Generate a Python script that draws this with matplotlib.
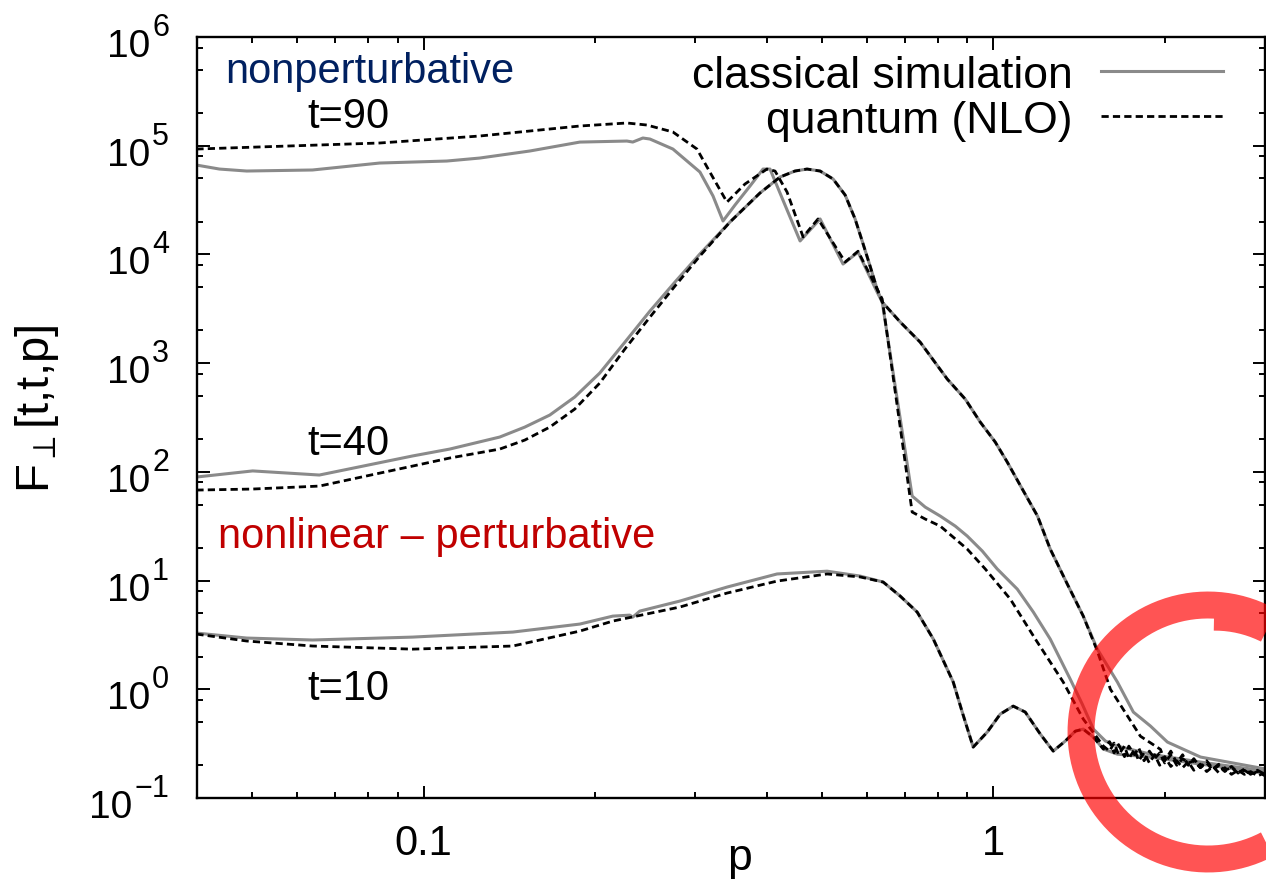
import numpy as np
import matplotlib
matplotlib.use("Agg")
import matplotlib.pyplot as plt
from matplotlib.lines import Line2D
from matplotlib.ticker import LogLocator, NullFormatter, FixedLocator, FixedFormatter

plt.rcParams['font.family'] = ['Liberation Sans', 'DejaVu Sans']
plt.rcParams['mathtext.fontset'] = 'custom'
plt.rcParams['mathtext.rm'] = 'Liberation Sans'
plt.rcParams['mathtext.it'] = 'Liberation Sans:italic'
plt.rcParams['mathtext.bf'] = 'Liberation Sans:bold'

# ---------------- data ----------------
# t = 90
p90_classical = [0.0399, 0.0438, 0.0489, 0.0638, 0.0837, 0.1098, 0.1254, 0.1536, 0.188, 0.2274,
                 0.2329, 0.2426, 0.2496, 0.2739, 0.3055, 0.3221, 0.3354, 0.3521, 0.3741, 0.3943,
                 0.4056, 0.4309, 0.458, 0.4966, 0.5449, 0.579, 0.6253, 0.6383, 0.7205, 0.7596,
                 0.8072, 0.8577, 0.900, 0.9566, 1.016, 1.102, 1.176, 1.259, 1.365, 1.433,
                 1.499, 1.574, 1.652, 1.888, 2.312, 3.006]
F90_classical = [6.64e4, 6.10e4, 5.85e4, 5.98e4, 6.93e4, 7.23e4, 7.70e4, 8.94e4, 1.08e5, 1.104e5,
                 1.081e5, 1.177e5, 1.152e5, 9.32e4, 5.73e4, 3.45e4, 2.03e4, 2.85e4, 4.26e4, 6.10e4,
                 6.10e4, 2.85e4, 1.33e4, 2.12e4, 8.16e3, 1.05e4, 4.51e3, 3.65e3, 59.9, 47.4,
                 39.2, 31.7, 25.7, 18.7, 12.8, 8.35, 5.13, 2.90, 1.241, 0.731,
                 0.430, 0.334, 0.300, 0.253, 0.214, 0.177]
p90_quantum = [0.0399, 0.0837, 0.1254, 0.188, 0.2274, 0.2465, 0.2739, 0.3019, 0.318, 0.3408,
               0.3665, 0.4006, 0.4139, 0.4345, 0.4636, 0.4925, 0.5495, 0.579, 0.6383, 0.7205,
               0.7596, 0.8072, 0.900, 0.9681, 1.0713, 1.1854, 1.327, 1.439, 1.561,
               1.60, 1.63, 1.66, 1.70, 1.73, 1.77, 1.80, 1.84, 1.88, 1.92, 1.96, 2.00, 2.05, 2.10,
               2.15, 2.20, 2.25, 2.31, 2.37, 2.43, 2.49, 2.55, 2.62, 2.69, 2.76, 2.83, 2.91, 3.00]
F90_quantum = [9.32e4, 1.059e5, 1.228e5, 1.518e5, 1.618e5, 1.55e5, 1.337e5, 9.32e4, 5.73e4, 3.03e4,
               4.44e4, 6.10e4, 5.85e4, 3.75e4, 1.45e4, 2.12e4, 8.51e3, 1.07e4, 3.89e3, 42.7,
               36.8, 31.7, 19.5, 12.8, 6.76, 2.90, 1.165, 0.532, 0.300,
               0.27, 0.32, 0.25, 0.30, 0.23, 0.28, 0.22, 0.26, 0.21, 0.25, 0.20, 0.24, 0.195, 0.22,
               0.19, 0.215, 0.18, 0.205, 0.175, 0.195, 0.17, 0.19, 0.165, 0.18, 0.165, 0.175, 0.16, 0.17]

# t = 40
p40_classical = [0.0399, 0.0501, 0.0656, 0.0956, 0.1111, 0.136, 0.1505, 0.1665, 0.1842, 0.2038,
                 0.2256, 0.2496, 0.2762, 0.3055, 0.3451, 0.3894, 0.4223, 0.4487, 0.4711, 0.4966,
                 0.5234, 0.5495, 0.5721, 0.5909, 0.6078, 0.6253, 0.6383, 0.6865, 0.7442, 0.8303,
                 0.8929, 0.9488, 1.0081, 1.0583, 1.1246, 1.196, 1.259, 1.349, 1.439, 1.523,
                 1.652, 1.762, 1.888, 2.022, 2.312, 3.006]
F40_classical = [89.6, 102, 93.5, 140, 162, 209, 258, 333, 488, 811,
                 1.56e3, 3.01e3, 5.57e3, 1.01e4, 1.99e4, 3.67e4, 5.15e4, 5.85e4, 6.10e4, 5.85e4,
                 4.94e4, 3.52e4, 2.12e4, 1.25e4, 7.82e3, 4.80e3, 3.65e3, 2.39e3, 1.56e3, 714,
                 467, 287, 188, 123, 69.5, 39.2, 19.5, 9.29, 4.71, 2.34,
                 1.165, 0.617, 0.459, 0.327, 0.238, 0.185]
p40_quantum = [0.0399, 0.0501, 0.0656, 0.0956, 0.1111, 0.136, 0.1505, 0.1665, 0.1842, 0.2038,
               0.2256, 0.2496, 0.2762, 0.3055, 0.3451, 0.3894, 0.4223, 0.4487, 0.4711, 0.4966,
               0.5234, 0.5495, 0.5721, 0.5909, 0.6078, 0.6253, 0.6383, 0.6865, 0.7442, 0.8303,
               0.8929, 0.9488, 1.0081, 1.0583, 1.1246, 1.196, 1.259, 1.349, 1.439, 1.523,
               1.606, 1.813, 1.966,
               2.00, 2.05, 2.10, 2.15, 2.20, 2.25, 2.31, 2.37, 2.43, 2.49, 2.55, 2.62, 2.69, 2.76,
               2.83, 2.91, 3.00]
F40_quantum = [68.0, 69.5, 74.0, 113, 134, 162, 196, 258, 378, 656,
               1.35e3, 2.65e3, 5.12e3, 9.67e3, 1.99e4, 3.67e4, 5.15e4, 5.85e4, 6.10e4, 5.85e4,
               4.94e4, 3.52e4, 2.12e4, 1.25e4, 7.82e3, 4.80e3, 3.65e3, 2.39e3, 1.56e3, 714,
               467, 287, 188, 123, 69.5, 39.2, 19.5, 9.29, 4.71, 2.25,
               1.0, 0.37, 0.28,
               0.22, 0.27, 0.21, 0.25, 0.20, 0.23, 0.19, 0.22, 0.185, 0.205, 0.175, 0.195, 0.17, 0.185,
               0.165, 0.18, 0.165]

# t = 10
p10_classical = [0.0399, 0.0489, 0.0638, 0.0956, 0.1434, 0.188, 0.2148, 0.2301, 0.2329, 0.2396,
                 0.2818, 0.3408, 0.4173, 0.5108, 0.5838, 0.6409, 0.6865, 0.7353, 0.7848, 0.8507,
                 0.8822, 0.9222, 0.9761, 1.0287, 1.0842, 1.1382, 1.2096, 1.2744, 1.338, 1.3936,
                 1.439, 1.499, 1.561, 1.652, 1.888, 2.312, 3.006]
F10_classical = [3.29, 2.96, 2.84, 3.02, 3.36, 3.98, 4.71, 4.81, 4.61, 5.24,
                 6.48, 8.71, 11.5, 12.2, 11.0, 9.69, 7.20, 5.13, 2.90, 1.165,
                 0.617, 0.294, 0.404, 0.591, 0.700, 0.617, 0.387, 0.270, 0.334, 0.412,
                 0.430, 0.363, 0.282, 0.253, 0.238, 0.205, 0.170]
p10_quantum = [0.0399, 0.0489, 0.0638, 0.0956, 0.1434, 0.188, 0.2148, 0.2818, 0.3408, 0.4173,
               0.5108, 0.5838, 0.6409, 0.6865, 0.7353, 0.7848, 0.8507, 0.8822, 0.9222, 0.9761,
               1.0287, 1.0842, 1.1382, 1.2096, 1.2744, 1.338, 1.3936, 1.439, 1.499, 1.561,
               1.60, 1.63, 1.66, 1.70, 1.73, 1.77, 1.80, 1.84, 1.88, 1.92, 1.96, 2.00, 2.05, 2.10,
               2.15, 2.20, 2.25, 2.31, 2.37, 2.43, 2.49, 2.55, 2.62, 2.69, 2.76, 2.83, 2.91, 3.00]
F10_quantum = [3.22, 2.78, 2.50, 2.34, 2.50, 3.43, 4.24, 5.71, 7.67, 9.89,
               11.5, 10.8, 9.69, 7.20, 5.13, 2.90, 1.165, 0.617, 0.294, 0.404,
               0.591, 0.700, 0.617, 0.387, 0.270, 0.334, 0.412, 0.430, 0.363, 0.282,
               0.33, 0.26, 0.31, 0.24, 0.30, 0.25, 0.29, 0.22, 0.27, 0.23, 0.26, 0.21, 0.25, 0.20,
               0.23, 0.21, 0.22, 0.19, 0.21, 0.18, 0.20, 0.18, 0.19, 0.17, 0.18, 0.165, 0.175, 0.16]

x_ticks = [0.1, 1]
x_ticklabels = ['0.1', '1']
y_exponents = [-1, 0, 1, 2, 3, 4, 5, 6]

legend_labels = ['classical simulation', 'quantum (NLO)']
annotations = [('nonperturbative', '#002060'), ('t=90', 'black'), ('t=40', 'black'),
               ('t=10', 'black'), ('nonlinear \u2013 perturbative', '#C00000')]

# ---------------- figure ----------------
W, H = 1266, 887
fig = plt.figure(figsize=(W / 100, H / 100), dpi=100)
L, R, T, B = 197, 1265, 38, 799
ax = fig.add_axes([L / W, 1 - B / H, (R - L) / W, (B - T) / H])

gray = '#8a8a8a'
dash = (0, (2.6, 1.5))
lw_c = 2.2
lw_q = 2.0

for p, F in [(p90_classical, F90_classical), (p40_classical, F40_classical), (p10_classical, F10_classical)]:
    ax.plot(p, F, color=gray, lw=lw_c, solid_joinstyle='round', zorder=2)
for p, F in [(p90_quantum, F90_quantum), (p40_quantum, F40_quantum), (p10_quantum, F10_quantum)]:
    ax.plot(p, F, color='black', lw=lw_q, linestyle=dash, zorder=3)

ax.set_xscale('log')
ax.set_yscale('log')
ax.set_xlim(0.04, 3.0)
ax.set_ylim(0.1, 1e6)

ax.xaxis.set_major_locator(FixedLocator(x_ticks))
ax.xaxis.set_major_formatter(FixedFormatter(x_ticklabels))
ax.xaxis.set_minor_locator(LogLocator(base=10, subs=np.arange(2, 10), numticks=20))
ax.xaxis.set_minor_formatter(NullFormatter())
ax.yaxis.set_major_locator(FixedLocator([10.0 ** e for e in y_exponents]))
ax.yaxis.set_minor_locator(LogLocator(base=10, subs=[2, 5, 8], numticks=20))
ax.yaxis.set_minor_formatter(NullFormatter())

ax.tick_params(which='both', direction='in', top=True, right=True, width=1.4, color='black')
ax.tick_params(which='major', length=9)
ax.tick_params(which='minor', length=4.5)
ax.tick_params(axis='x', which='major', labelsize=30, pad=18)
ax.tick_params(axis='y', which='both', labelleft=False)
for s in ax.spines.values():
    s.set_linewidth(1.7)

ax.set_xlabel('p', fontsize=32, va='baseline')
ax.xaxis.set_label_coords(0.508, -0.093)
ax.text(-0.1498, 0.512, r'F$_{\perp}$[t,t,p]', transform=ax.transAxes, rotation=90,
        ha='center', va='center', fontsize=34)

# y tick labels "10" with a large superscript exponent (as in the original)
fig.canvas.draw()
renderer = fig.canvas.get_renderer()
sup_right_px = 169
for e in y_exponents:
    ty = ax.transData.transform((1.0, 10.0 ** e))[1]
    sup = fig.text(sup_right_px / W, (ty + 2) / H, str(e).replace('-', '\u2212'),
                   ha='right', va='baseline', fontsize=22)
    bb = sup.get_window_extent(renderer)
    fig.text((bb.x0 - 2) / W, (ty - 19) / H, '10', ha='right', va='baseline', fontsize=28)

# legend (manual, key on the right)
rows_text_y = [0.934, 0.875]
rows_line_y = [0.955, 0.896]
styles = [dict(color=gray, lw=lw_c), dict(color='black', lw=lw_q, linestyle=dash)]
for lab, ty, ly, st in zip(legend_labels, rows_text_y, rows_line_y, styles):
    ax.text(0.820, ty, lab, transform=ax.transAxes, ha='right', va='baseline', fontsize=32)
    ax.add_line(Line2D([0.846, 0.961], [ly, ly], transform=ax.transAxes, **st))

# annotations
ann_pos = [(0.0262, 0.941), (0.103, 0.8817), (0.103, 0.452), (0.103, 0.1301), (0.0197, 0.3298)]
for (txt, col), (x, y) in zip(annotations, ann_pos):
    ax.text(x, y, txt, transform=ax.transAxes, color=col, fontsize=30, ha='left', va='baseline')

# red hand-drawn ring (overlay annotation), in figure pixel units
cx, cy = 1208, 733
th = np.radians(np.linspace(87, 87 - 390, 400))
frac = np.clip((np.radians(87) - th) / np.radians(100), 0, 1)
r = 115 + 12 * frac
xs = (cx + r * np.cos(th)) / W
ys = 1 - (cy - r * np.sin(th)) / H
ring = Line2D(xs, ys, transform=fig.transFigure, color='red', alpha=0.67, lw=19.4,
              solid_capstyle='butt', solid_joinstyle='round', zorder=10)
fig.add_artist(ring)

fig.savefig('out.png', dpi=100)
